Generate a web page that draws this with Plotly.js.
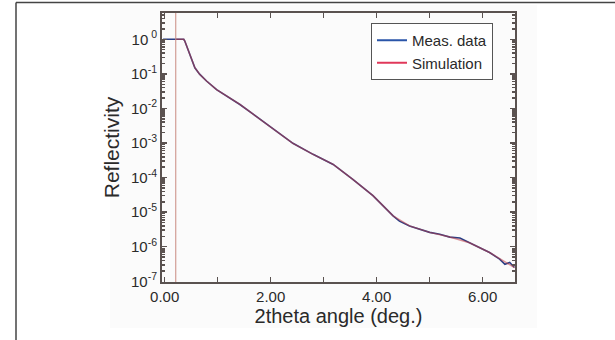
<!DOCTYPE html>
<html>
<head>
<meta charset="utf-8">
<script src="https://cdn.plot.ly/plotly-3.0.1.min.js"></script>
<style>
html,body{margin:0;padding:0;background:#fff;}
#chart{width:615px;height:340px;}
</style>
</head>
<body>
<div id="chart"></div>
<script>
// Measured data: 2theta (deg.) and reflectivity
var measX = [-0.03, 0.10, 0.20, 0.30, 0.36, 0.38, 0.44, 0.50, 0.57, 0.66, 0.79, 0.98, 1.17, 1.42, 1.67, 1.92, 2.17, 2.42, 2.80, 3.18, 3.55, 3.93, 4.31, 4.43, 4.62, 4.81, 5.00, 5.19, 5.38, 5.57, 5.75, 5.94, 6.13, 6.32, 6.42, 6.51, 6.60];
var measY = [1.0, 1.0, 1.0, 1.0, 1.0, 0.89, 0.51, 0.26, 0.15, 0.098, 0.062, 0.035, 0.023, 0.013, 6.8e-3, 3.5e-3, 1.9e-3, 9.8e-4, 4.7e-4, 2.4e-4, 8.9e-5, 3.0e-5, 7.8e-6, 5.5e-6, 4.0e-6, 3.2e-6, 2.6e-6, 2.3e-6, 1.9e-6, 1.8e-6, 1.3e-6, 9.3e-7, 6.8e-7, 4.4e-7, 3.1e-7, 3.5e-7, 2.5e-7];
// Simulation
var simX = [0.21, 0.30, 0.36, 0.38, 0.44, 0.50, 0.57, 0.66, 0.79, 0.98, 1.17, 1.42, 1.67, 1.92, 2.17, 2.42, 2.80, 3.18, 3.55, 3.93, 4.31, 4.62, 5.00, 5.38, 5.75, 6.13, 6.60];
var simY = [1.0, 1.0, 1.0, 0.89, 0.51, 0.26, 0.15, 0.098, 0.062, 0.035, 0.023, 0.013, 6.8e-3, 3.5e-3, 1.9e-3, 9.8e-4, 4.7e-4, 2.4e-4, 8.9e-5, 3.0e-5, 7.8e-6, 4.0e-6, 2.6e-6, 1.9e-6, 1.3e-6, 6.8e-7, 2.5e-7];
var simEdgeX = [0.21, 0.21];
var simEdgeY = [1e-8, 10];
// Axis ticks
var xTickVals = [0, 2, 4, 6];
var xTickText = ['0.00', '2.00', '4.00', '6.00'];
var xMinorVals = [1, 3, 5];
var yTickVals = [1, 1e-1, 1e-2, 1e-3, 1e-4, 1e-5, 1e-6, 1e-7];
var yTickText = ['10<sup> 0</sup>', '10<sup>-1</sup>', '10<sup>-2</sup>', '10<sup>-3</sup>', '10<sup>-4</sup>', '10<sup>-5</sup>', '10<sup>-6</sup>', '10<sup>-7</sup>'];

var yMinor = [];
for (var e = -8; e <= 0; e++) { for (var m = 2; m <= 9; m++) { yMinor.push(m * Math.pow(10, e)); } }

var axisCol = '#5a5250';
var textCol = '#2a2a2a';
var FONT = 'Liberation Sans, Arial, sans-serif';
var blue = '#2a55a8', red = '#e0385a';

var traces = [
  {x: measX, y: measY, mode: 'lines', name: 'Meas. data', showlegend: false, line: {color: '#2a3f85', width: 1.6}},
  {x: simX, y: simY, mode: 'lines', name: 'Simulation', showlegend: false, line: {color: 'rgba(190,60,70,0.55)', width: 1.5}},
  {x: simEdgeX, y: simEdgeY, mode: 'lines', showlegend: false, line: {color: '#c98a80', width: 1}},
  {x: [null], y: [null], mode: 'lines', name: 'Meas. data', line: {color: blue, width: 2}},
  {x: [null], y: [null], mode: 'lines', name: 'Simulation', line: {color: red, width: 2}}
];

var W = 353, H = 269, L = 162, T = 13;
function px(v) { return (v - L) / W; }
function py(v) { return (T + H - v) / H; }

var layout = {
  width: 615, height: 340,
  margin: {l: L, r: 615 - L - W, t: T, b: 340 - T - H},
  paper_bgcolor: '#ffffff',
  plot_bgcolor: '#ffffff',
  font: {family: FONT, color: textCol, size: 15},
  showlegend: true,
  legend: {
    x: px(371), y: py(23), xanchor: 'left', yanchor: 'top',
    bgcolor: '#ffffff', bordercolor: '#555', borderwidth: 1,
    font: {family: FONT, size: 15, color: textCol},
    itemwidth: 30, tracegroupgap: 0
  },
  xaxis: {
    range: [-0.05, 6.61],
    tickmode: 'array', tickvals: xTickVals, ticktext: xTickText,
    ticks: 'inside', ticklen: 5, tickcolor: axisCol, tickwidth: 1.5,
    minor: {tickvals: xMinorVals, ticks: 'inside', ticklen: 5, tickcolor: axisCol, tickwidth: 1.5, showgrid: false},
    showline: true, linecolor: axisCol, linewidth: 2, mirror: 'ticks',
    showgrid: false, zeroline: false,
    tickfont: {size: 15, color: textCol},
    title: {text: '2theta angle (deg.)', font: {size: 20, color: textCol}, standoff: 4}
  },
  yaxis: {
    type: 'log', range: [-7.02, 0.76],
    tickmode: 'array', tickvals: yTickVals, ticktext: yTickText,
    ticks: 'inside', ticklen: 5, tickcolor: axisCol, tickwidth: 1.5,
    showline: true, linecolor: axisCol, linewidth: 2, mirror: 'ticks',
    showgrid: false, zeroline: false,
    tickfont: {size: 15, color: textCol},
    minor: {tickvals: yMinor, ticks: 'inside', ticklen: 3, tickcolor: axisCol, showgrid: false},
    title: {text: 'Reflectivity', font: {size: 21, color: textCol}, standoff: 6}
  },
  shapes: [
    {type: 'rect', xref: 'paper', yref: 'paper', x0: px(110), x1: px(537), y0: py(328), y1: py(5), fillcolor: '#fbfbfb', line: {width: 0}, layer: 'below'},
    {type: 'line', xref: 'paper', yref: 'paper', x0: px(16), x1: px(615), y0: py(2.5), y1: py(2.5), line: {color: '#444', width: 1.5}},
    {type: 'line', xref: 'paper', yref: 'paper', x0: px(16), x1: px(16), y0: py(2.5), y1: py(340), line: {color: '#444', width: 1.5}}
  ]
};

Plotly.newPlot('chart', traces, layout, {displayModeBar: false, staticPlot: true});
</script>
</body>
</html>
